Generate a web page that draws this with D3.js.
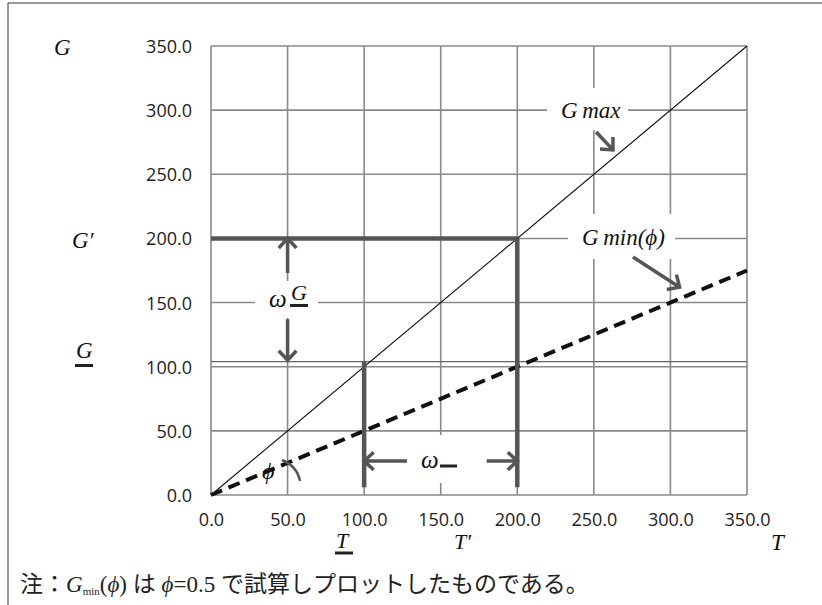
<!DOCTYPE html>
<html>
<head>
<meta charset="utf-8">
<script src="https://cdn.jsdelivr.net/npm/d3@7"></script>
<style>
  body { margin: 0; background: #fff; }
  .tick-label { font-family: "Open Sans", sans-serif; font-size: 18px; fill: #222; }
  .math { font-family: "Liberation Serif", serif; font-style: italic; fill: #111; }
  .note { font-family: "Liberation Serif", "Noto Sans CJK JP", serif; font-size: 23px; fill: #222; }
</style>
</head>
<body>
<div class="chart"></div>
<script>
// values
var tickValues = [0, 50, 100, 150, 200, 250, 300, 350];
var tickLabels = ["0.0", "50.0", "100.0", "150.0", "200.0", "250.0", "300.0", "350.0"];
var gMaxLine = [[0, 0], [350, 350]];          // G = T
var gMinLine = [[0, 0], [350, 175]];          // G = 0.5 T (phi = 0.5)
var gLow = 104;                                 // G underline level
var thickLines = [
  [[0, 200], [200, 200]],   // G' horizontal
  [[200, 200], [200, 6]],   // T' vertical
  [[100, gLow], [100, 6]]   // T underline vertical
];
var arrows = [
  [[50, 173], [50, 200]],   // omega G up
  [[50, 137], [50, 105]],   // omega G down
  [[128, 26.5], [100, 26.5]], // omega T left
  [[180, 26.5], [200, 26.5]], // omega T right
  [[251.5, 283], [262.5, 269]], // Gmax pointer
  [[275.5, 185.5], [306, 162]]  // Gmin pointer
];

var svgWidth = 822, svgHeight = 605;
var plot = { left: 211, right: 747, top: 46, bottom: 495 };

var svg = d3.select(".chart").append("svg")
  .attr("width", svgWidth)
  .attr("height", svgHeight);

var x = d3.scaleLinear().domain([0, 350]).range([plot.left, plot.right]);
var y = d3.scaleLinear().domain([0, 350]).range([plot.bottom, plot.top]);

// outer frame (only top and left edges show)
svg.append("path")
  .attr("d", "M8," + svgHeight + " L8,3 L" + svgWidth + ",3")
  .attr("fill", "none").attr("stroke", "#333").attr("stroke-width", 1);

// grid
var grid = svg.append("g").attr("stroke", "#8a8a8a").attr("stroke-width", 1.6);
grid.selectAll(".vg").data(tickValues).enter().append("line")
  .attr("x1", function(d) { return x(d); }).attr("x2", function(d) { return x(d); })
  .attr("y1", y(0)).attr("y2", y(350));
grid.selectAll(".hg").data(tickValues).enter().append("line")
  .attr("y1", function(d) { return y(d); }).attr("y2", function(d) { return y(d); })
  .attr("x1", x(0)).attr("x2", x(350));

// G underline level line
svg.append("line")
  .attr("x1", x(0)).attr("x2", x(350))
  .attr("y1", y(gLow)).attr("y2", y(gLow))
  .attr("stroke", "#666").attr("stroke-width", 1.3);

// tick labels via axes
var bottomAxis = d3.axisBottom(x).tickValues(tickValues).tickSize(0)
  .tickFormat(function(d, i) { return tickLabels[i]; });
var leftAxis = d3.axisLeft(y).tickValues(tickValues).tickSize(0)
  .tickFormat(function(d, i) { return tickLabels[i]; });

var xa = svg.append("g").attr("transform", "translate(0," + plot.bottom + ")").call(bottomAxis);
xa.select(".domain").remove();
xa.selectAll("text").attr("class", "tick-label").attr("y", 18).attr("dy", "0.71em")
  .attr("font-family", null).attr("font-size", null).attr("fill", null);

var ya = svg.append("g").attr("transform", "translate(192,0)").call(leftAxis);
ya.select(".domain").remove();
ya.selectAll("text").attr("class", "tick-label").attr("x", 0).attr("dy", "0.36em")
  .attr("font-family", null).attr("font-size", null).attr("fill", null);

// white boxes behind annotation labels
var boxes = [
  [547, 88, 81, 42],    // Gmax
  [568, 214, 107, 45],  // Gmin(phi)
  [255, 281, 63, 37],   // omega G
  [410, 435, 74, 48]    // omega T
];
svg.selectAll(".box").data(boxes).enter().append("rect")
  .attr("x", function(d) { return d[0]; }).attr("y", function(d) { return d[1]; })
  .attr("width", function(d) { return d[2]; }).attr("height", function(d) { return d[3]; })
  .attr("fill", "#fff");

var line = d3.line()
  .x(function(d) { return x(d[0]); })
  .y(function(d) { return y(d[1]); });

// Gmax
svg.append("path").attr("d", line(gMaxLine))
  .attr("fill", "none").attr("stroke", "#111").attr("stroke-width", 1.1);

// Gmin(phi)
svg.append("path").attr("d", line(gMinLine))
  .attr("fill", "none").attr("stroke", "#111").attr("stroke-width", 4)
  .attr("stroke-dasharray", "12,7");

// thick marker lines
svg.selectAll(".thick").data(thickLines).enter().append("path")
  .attr("d", function(d) { return line(d); })
  .attr("fill", "none").attr("stroke", "#555").attr("stroke-width", 4.5);

// arrows with open heads
function drawArrow(a) {
  var x0 = x(a[0][0]), y0 = y(a[0][1]), x1 = x(a[1][0]), y1 = y(a[1][1]);
  var ang = Math.atan2(y1 - y0, x1 - x0);
  var len = 13, spread = Math.PI / 4.2;
  var p = "M" + x0 + "," + y0 + " L" + x1 + "," + y1 +
    " M" + (x1 - len * Math.cos(ang - spread)) + "," + (y1 - len * Math.sin(ang - spread)) +
    " L" + x1 + "," + y1 +
    " L" + (x1 - len * Math.cos(ang + spread)) + "," + (y1 - len * Math.sin(ang + spread));
  svg.append("path").attr("d", p)
    .attr("fill", "none").attr("stroke", "#555").attr("stroke-width", 3.5)
    .attr("stroke-linejoin", "miter");
}
arrows.forEach(drawArrow);

// phi angle mark
svg.append("path").attr("d", "M282,460 Q297,466 300,481")
  .attr("fill", "none").attr("stroke", "#555").attr("stroke-width", 2.5);
svg.append("text").attr("class", "math").attr("x", 262).attr("y", 479)
  .attr("font-size", 24).text("\u03d5");

// math labels
function mathText(tx, ty, size, str) {
  return svg.append("text").attr("class", "math").attr("x", tx).attr("y", ty)
    .attr("font-size", size).text(str);
}
function underline(x1, x2, yy) {
  svg.append("line").attr("x1", x1).attr("x2", x2).attr("y1", yy).attr("y2", yy)
    .attr("stroke", "#222").attr("stroke-width", 3);
}

mathText(54, 55, 23, "G");
mathText(72, 248, 23, "G\u2032");
mathText(76, 358, 23, "G");
underline(75, 93, 365.5);

mathText(336, 548, 22, "T");
underline(335, 353, 553);
mathText(454, 549, 22, "T\u2032");
mathText(771, 550, 23, "T");

mathText(561, 118, 23, "G\u2009max");
mathText(582, 245, 23, "G\u2009min(\u03d5)");

mathText(269, 307, 25, "\u03c9");
mathText(291, 300, 22, "G");
underline(290, 308, 305.5);

mathText(421, 468, 25, "\u03c9");
underline(440, 457, 466);

// footnote
var note = svg.append("text").attr("class", "note").attr("x", 20).attr("y", 592);
note.append("tspan").text("注：");
note.append("tspan").attr("font-style", "italic").text("G");
note.append("tspan").attr("font-size", 11).attr("dy", 3).text("min");
note.append("tspan").attr("dy", -3).text("(");
note.append("tspan").attr("font-style", "italic").text("\u03d5");
note.append("tspan").text(") は ");
note.append("tspan").attr("font-style", "italic").text("\u03d5");
note.append("tspan").text("=0.5 で試算しプロットしたものである。");
</script>
</body>
</html>
